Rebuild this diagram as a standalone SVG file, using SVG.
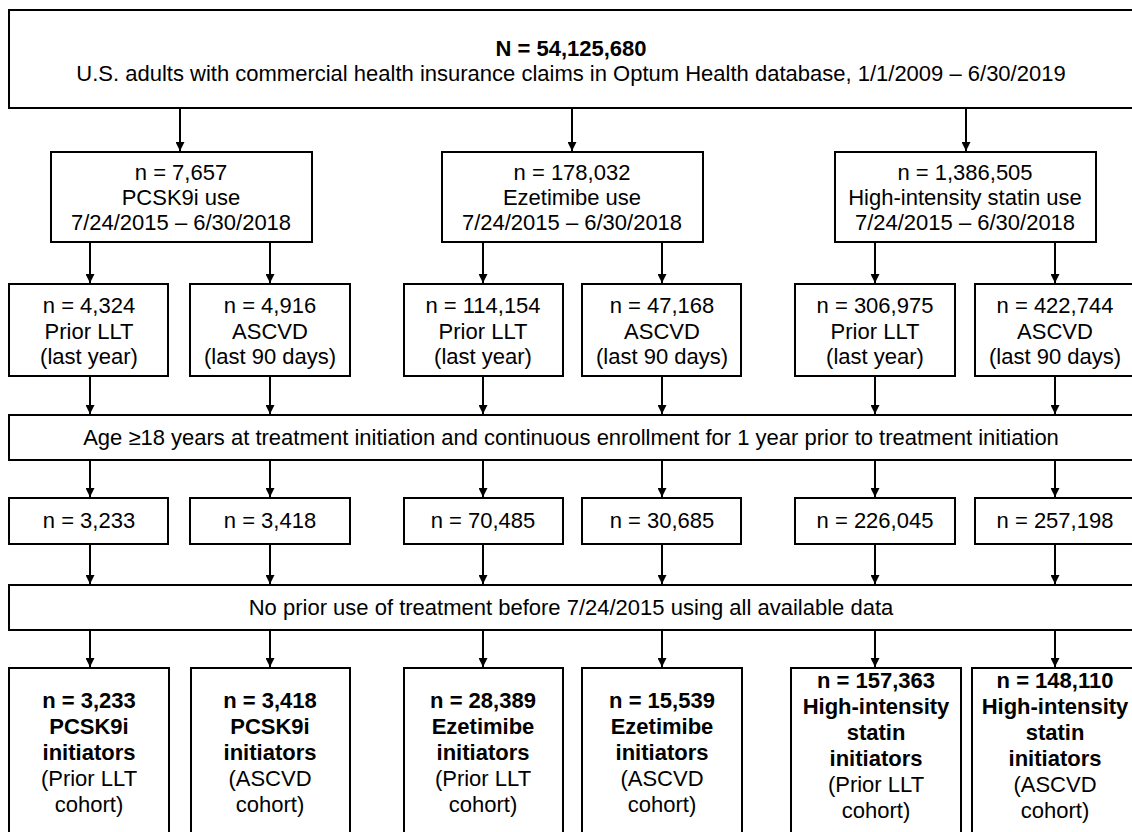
<svg xmlns="http://www.w3.org/2000/svg" width="1132" height="832" viewBox="0 0 1132 832">
<style>
rect{fill:#fff;stroke:#000;stroke-width:2}
text{font-family:"Liberation Sans",Arial,Helvetica,sans-serif;font-size:22px;fill:#000;text-anchor:middle}
.b{font-weight:bold}
.c line{stroke:#000;stroke-width:2;marker-end:url(#ah)}
</style>
<defs>
<marker id="ah" markerUnits="userSpaceOnUse" markerWidth="9" markerHeight="9" refX="9" refY="4.5" orient="auto">
<path d="M0,0 L9,4.5 L0,9 z" fill="#000"/>
</marker>
</defs>
<rect width="1132" height="832" style="stroke:none"/>
<g class="c" id="connectors">
<line x1="180" y1="109" x2="180" y2="151"/>
<line x1="572" y1="109" x2="572" y2="151"/>
<line x1="966" y1="109" x2="966" y2="151"/>
<line x1="90" y1="243" x2="90" y2="283"/>
<line x1="270" y1="243" x2="270" y2="283"/>
<line x1="483" y1="243" x2="483" y2="283"/>
<line x1="662" y1="243" x2="662" y2="283"/>
<line x1="875" y1="243" x2="875" y2="283"/>
<line x1="1055" y1="243" x2="1055" y2="283"/>
<line x1="90" y1="377" x2="90" y2="414"/>
<line x1="270" y1="377" x2="270" y2="414"/>
<line x1="483" y1="377" x2="483" y2="414"/>
<line x1="662" y1="377" x2="662" y2="414"/>
<line x1="875" y1="377" x2="875" y2="414"/>
<line x1="1055" y1="377" x2="1055" y2="414"/>
<line x1="90" y1="461" x2="90" y2="497"/>
<line x1="270" y1="461" x2="270" y2="497"/>
<line x1="483" y1="461" x2="483" y2="497"/>
<line x1="662" y1="461" x2="662" y2="497"/>
<line x1="875" y1="461" x2="875" y2="497"/>
<line x1="1055" y1="461" x2="1055" y2="497"/>
<line x1="90" y1="545" x2="90" y2="584"/>
<line x1="270" y1="545" x2="270" y2="584"/>
<line x1="483" y1="545" x2="483" y2="584"/>
<line x1="662" y1="545" x2="662" y2="584"/>
<line x1="875" y1="545" x2="875" y2="584"/>
<line x1="1055" y1="545" x2="1055" y2="584"/>
<line x1="90" y1="631" x2="90" y2="667"/>
<line x1="270" y1="631" x2="270" y2="667"/>
<line x1="483" y1="631" x2="483" y2="667"/>
<line x1="662" y1="631" x2="662" y2="667"/>
<line x1="875" y1="631" x2="875" y2="667"/>
<line x1="1055" y1="631" x2="1055" y2="667"/>
</g>
<g id="top">
<rect x="9" y="10" width="1126" height="98"/>
<text x="571" y="56" class="b">N = 54,125,680</text>
<text x="571" y="81">U.S. adults with commercial health insurance claims in Optum Health database, 1/1/2009 – 6/30/2019</text>
</g>
<g id="pcsk9i">
<rect x="51" y="152" width="261" height="90"/>
<text x="181" y="180">n = 7,657</text>
<text x="181" y="205">PCSK9i use</text>
<text x="181" y="230">7/24/2015 – 6/30/2018</text>
</g>
<g id="ezetimibe">
<rect x="442" y="152" width="261" height="90"/>
<text x="572" y="180">n = 178,032</text>
<text x="572" y="205">Ezetimibe use</text>
<text x="572" y="230">7/24/2015 – 6/30/2018</text>
</g>
<g id="statin">
<rect x="835" y="152" width="261" height="90"/>
<text x="965" y="180">n = 1,386,505</text>
<text x="965" y="205">High-intensity statin use</text>
<text x="965" y="230">7/24/2015 – 6/30/2018</text>
</g>
<g id="r1c1"><rect x="9" y="284" width="159" height="92"/><text x="89" y="313">n = 4,324</text><text x="89" y="339">Prior LLT</text><text x="89" y="364">(last year)</text></g>
<g id="r1c2"><rect x="190" y="284" width="160" height="92"/><text x="270" y="313">n = 4,916</text><text x="270" y="339">ASCVD</text><text x="270" y="364">(last 90 days)</text></g>
<g id="r1c3"><rect x="404" y="284" width="159" height="92"/><text x="483" y="313">n = 114,154</text><text x="483" y="339">Prior LLT</text><text x="483" y="364">(last year)</text></g>
<g id="r1c4"><rect x="582" y="284" width="159" height="92"/><text x="662" y="313">n = 47,168</text><text x="662" y="339">ASCVD</text><text x="662" y="364">(last 90 days)</text></g>
<g id="r1c5"><rect x="795" y="284" width="160" height="92"/><text x="875" y="313">n = 306,975</text><text x="875" y="339">Prior LLT</text><text x="875" y="364">(last year)</text></g>
<g id="r1c6"><rect x="975" y="284" width="160" height="92"/><text x="1055" y="313">n = 422,744</text><text x="1055" y="339">ASCVD</text><text x="1055" y="364">(last 90 days)</text></g>
<g id="age">
<rect x="9" y="415" width="1126" height="45"/>
<text x="571" y="445">Age ≥18 years at treatment initiation and continuous enrollment for 1 year prior to treatment initiation</text>
</g>
<g id="r3c1"><rect x="9" y="498" width="159" height="46"/><text x="89" y="528">n = 3,233</text></g>
<g id="r3c2"><rect x="190" y="498" width="160" height="46"/><text x="270" y="528">n = 3,418</text></g>
<g id="r3c3"><rect x="404" y="498" width="159" height="46"/><text x="483" y="528">n = 70,485</text></g>
<g id="r3c4"><rect x="582" y="498" width="159" height="46"/><text x="662" y="528">n = 30,685</text></g>
<g id="r3c5"><rect x="795" y="498" width="160" height="46"/><text x="875" y="528">n = 226,045</text></g>
<g id="r3c6"><rect x="975" y="498" width="160" height="46"/><text x="1055" y="528">n = 257,198</text></g>
<g id="noprior">
<rect x="9" y="585" width="1126" height="45"/>
<text x="571" y="615">No prior use of treatment before 7/24/2015 using all available data</text>
</g>
<g id="f1"><rect x="9" y="668" width="160" height="180"/>
<text x="89" y="708" class="b">n = 3,233</text><text x="89" y="734" class="b">PCSK9i</text><text x="89" y="760" class="b">initiators</text><text x="89" y="786">(Prior LLT</text><text x="89" y="812">cohort)</text></g>
<g id="f2"><rect x="191" y="668" width="159" height="180"/>
<text x="270" y="708" class="b">n = 3,418</text><text x="270" y="734" class="b">PCSK9i</text><text x="270" y="760" class="b">initiators</text><text x="270" y="786">(ASCVD</text><text x="270" y="812">cohort)</text></g>
<g id="f3"><rect x="404" y="668" width="159" height="180"/>
<text x="483" y="708" class="b">n = 28,389</text><text x="483" y="734" class="b">Ezetimibe</text><text x="483" y="760" class="b">initiators</text><text x="483" y="786">(Prior LLT</text><text x="483" y="812">cohort)</text></g>
<g id="f4"><rect x="582" y="668" width="160" height="180"/>
<text x="662" y="708" class="b">n = 15,539</text><text x="662" y="734" class="b">Ezetimibe</text><text x="662" y="760" class="b">initiators</text><text x="662" y="786">(ASCVD</text><text x="662" y="812">cohort)</text></g>
<g id="f5"><rect x="791" y="668" width="170" height="180"/>
<text x="876" y="688" class="b">n = 157,363</text><text x="876" y="714" class="b">High-intensity</text><text x="876" y="740" class="b">statin</text><text x="876" y="766" class="b">initiators</text><text x="876" y="792">(Prior LLT</text><text x="876" y="818">cohort)</text></g>
<g id="f6"><rect x="972" y="668" width="167" height="180"/>
<text x="1055" y="688" class="b">n = 148,110</text><text x="1055" y="714" class="b">High-intensity</text><text x="1055" y="740" class="b">statin</text><text x="1055" y="766" class="b">initiators</text><text x="1055" y="792">(ASCVD</text><text x="1055" y="818">cohort)</text></g>
</svg>
